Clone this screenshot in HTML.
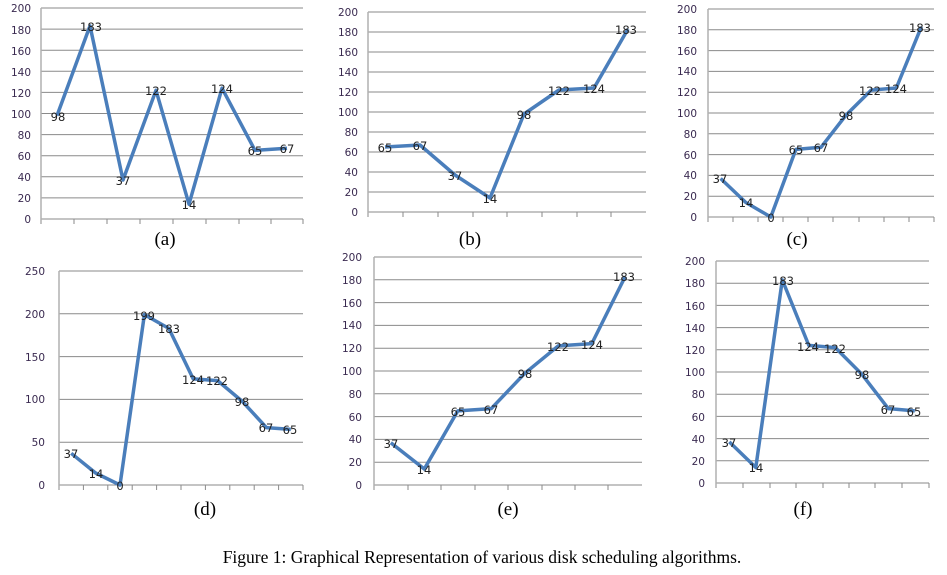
<!DOCTYPE html>
<html><head><meta charset="utf-8"><style>
body{margin:0;background:#fff;}
svg{display:block}
.t{font-family:"DejaVu Sans","Liberation Sans",sans-serif;font-size:10.5px;fill:#3a2a50;text-anchor:end}
.d{font-family:"DejaVu Sans","Liberation Sans",sans-serif;font-size:11.5px;fill:#222;text-anchor:middle}
.c{font-family:"Liberation Serif",serif;font-size:19px;fill:#000;text-anchor:middle}
.g{stroke:#8a8a8a;stroke-width:1}
.ax{stroke:#b0b0b0;stroke-width:1.5}
.l{fill:none;stroke:#4a7ebb;stroke-width:3.5;stroke-linejoin:round}
</style></head><body>
<svg width="947" height="575" xmlns="http://www.w3.org/2000/svg">
<!-- (a) -->
<g class="g"><line x1="41" x2="303" y1="219" y2="219"/><line x1="41" x2="303" y1="197.9" y2="197.9"/><line x1="41" x2="303" y1="176.8" y2="176.8"/><line x1="41" x2="303" y1="155.7" y2="155.7"/><line x1="41" x2="303" y1="134.6" y2="134.6"/><line x1="41" x2="303" y1="113.5" y2="113.5"/><line x1="41" x2="303" y1="92.4" y2="92.4"/><line x1="41" x2="303" y1="71.3" y2="71.3"/><line x1="41" x2="303" y1="50.2" y2="50.2"/><line x1="41" x2="303" y1="29.1" y2="29.1"/><line x1="41" x2="303" y1="8" y2="8"/>
<line x1="74" x2="74" y1="219" y2="224"/><line x1="107" x2="107" y1="219" y2="224"/><line x1="140" x2="140" y1="219" y2="224"/><line x1="173" x2="173" y1="219" y2="224"/><line x1="206" x2="206" y1="219" y2="224"/><line x1="239" x2="239" y1="219" y2="224"/><line x1="271" x2="271" y1="219" y2="224"/><line x1="303" x2="303" y1="219" y2="224"/></g>
<line class="ax" x1="41" x2="41" y1="8" y2="224"/>
<g class="t"><text x="31" y="223">0</text><text x="31" y="202">20</text><text x="31" y="181">40</text><text x="31" y="160">60</text><text x="31" y="139">80</text><text x="31" y="118">100</text><text x="31" y="97">120</text><text x="31" y="76">140</text><text x="31" y="55">160</text><text x="31" y="34">180</text><text x="31" y="12">200</text></g>
<polyline class="l" points="57,115.6 90,25.9 123,180 156,90.3 189,204.2 222,88.2 255,150.4 287,148.3"/>
<g class="d"><text x="58" y="121">98</text><text x="91" y="31">183</text><text x="123" y="185">37</text><text x="156" y="95">122</text><text x="189" y="209">14</text><text x="222" y="93">124</text><text x="255" y="155">65</text><text x="287" y="153">67</text></g>
<text class="c" x="165" y="245">(a)</text>

<!-- (b) -->
<g class="g"><line x1="368" x2="646" y1="212" y2="212"/><line x1="368" x2="646" y1="192" y2="192"/><line x1="368" x2="646" y1="172" y2="172"/><line x1="368" x2="646" y1="152" y2="152"/><line x1="368" x2="646" y1="132" y2="132"/><line x1="368" x2="646" y1="112" y2="112"/><line x1="368" x2="646" y1="92" y2="92"/><line x1="368" x2="646" y1="72" y2="72"/><line x1="368" x2="646" y1="52" y2="52"/><line x1="368" x2="646" y1="32" y2="32"/><line x1="368" x2="646" y1="12" y2="12"/>
<line x1="403" x2="403" y1="212" y2="217"/><line x1="438" x2="438" y1="212" y2="217"/><line x1="473" x2="473" y1="212" y2="217"/><line x1="507" x2="507" y1="212" y2="217"/><line x1="542" x2="542" y1="212" y2="217"/><line x1="577" x2="577" y1="212" y2="217"/><line x1="611" x2="611" y1="212" y2="217"/><line x1="368" x2="368" y1="212" y2="217"/></g>
<line class="ax" x1="368" x2="368" y1="12" y2="217"/>
<g class="t"><text x="358" y="216">0</text><text x="358" y="196">20</text><text x="358" y="176">40</text><text x="358" y="156">60</text><text x="358" y="136">80</text><text x="358" y="116">100</text><text x="358" y="96">120</text><text x="358" y="76">140</text><text x="358" y="56">160</text><text x="358" y="36">180</text><text x="358" y="16">200</text></g>
<polyline class="l" points="385,147 420,145 455,175 490,198 524,114 559,90 594,88 628,29"/>
<g class="d"><text x="385" y="152">65</text><text x="420" y="150">67</text><text x="455" y="180">37</text><text x="490" y="203">14</text><text x="524" y="119">98</text><text x="559" y="95">122</text><text x="594" y="93">124</text><text x="626" y="34">183</text></g>
<text class="c" x="470" y="245">(b)</text>

<!-- (c) -->
<g class="g"><line x1="708" x2="934" y1="217" y2="217"/><line x1="708" x2="934" y1="196.2" y2="196.2"/><line x1="708" x2="934" y1="175.4" y2="175.4"/><line x1="708" x2="934" y1="154.6" y2="154.6"/><line x1="708" x2="934" y1="133.8" y2="133.8"/><line x1="708" x2="934" y1="113" y2="113"/><line x1="708" x2="934" y1="92.2" y2="92.2"/><line x1="708" x2="934" y1="71.4" y2="71.4"/><line x1="708" x2="934" y1="50.6" y2="50.6"/><line x1="708" x2="934" y1="29.8" y2="29.8"/><line x1="708" x2="934" y1="9" y2="9"/>
<line x1="733" x2="733" y1="217" y2="222"/><line x1="758" x2="758" y1="217" y2="222"/><line x1="783" x2="783" y1="217" y2="222"/><line x1="808" x2="808" y1="217" y2="222"/><line x1="833" x2="833" y1="217" y2="222"/><line x1="859" x2="859" y1="217" y2="222"/><line x1="884" x2="884" y1="217" y2="222"/><line x1="909" x2="909" y1="217" y2="222"/><line x1="934" x2="934" y1="217" y2="222"/></g>
<line class="ax" x1="708" x2="708" y1="9" y2="222"/>
<g class="t"><text x="697" y="221">0</text><text x="697" y="200">20</text><text x="697" y="179">40</text><text x="697" y="159">60</text><text x="697" y="138">80</text><text x="697" y="117">100</text><text x="697" y="96">120</text><text x="697" y="75">140</text><text x="697" y="55">160</text><text x="697" y="34">180</text><text x="697" y="13">200</text></g>
<polyline class="l" points="720.6,178.5 745.7,202.4 770.8,217 795.9,149.4 821,147.3 846.1,115 871.2,90.1 896.3,88 921.4,26.7"/>
<g class="d"><text x="720" y="183">37</text><text x="746" y="207">14</text><text x="771" y="222">0</text><text x="796" y="154">65</text><text x="821" y="152">67</text><text x="846" y="120">98</text><text x="870" y="95">122</text><text x="896" y="93">124</text><text x="920" y="32">183</text></g>
<text class="c" x="797" y="245">(c)</text>

<!-- (d) -->
<g class="g"><line x1="59" x2="303" y1="485" y2="485"/><line x1="59" x2="303" y1="442.2" y2="442.2"/><line x1="59" x2="303" y1="399.4" y2="399.4"/><line x1="59" x2="303" y1="356.6" y2="356.6"/><line x1="59" x2="303" y1="313.8" y2="313.8"/><line x1="59" x2="303" y1="271" y2="271"/>
<line x1="83.4" x2="83.4" y1="485" y2="490"/><line x1="107.8" x2="107.8" y1="485" y2="490"/><line x1="132.2" x2="132.2" y1="485" y2="490"/><line x1="156.6" x2="156.6" y1="485" y2="490"/><line x1="181" x2="181" y1="485" y2="490"/><line x1="205.4" x2="205.4" y1="485" y2="490"/><line x1="229.8" x2="229.8" y1="485" y2="490"/><line x1="254.2" x2="254.2" y1="485" y2="490"/><line x1="278.6" x2="278.6" y1="485" y2="490"/><line x1="303" x2="303" y1="485" y2="490"/></g>
<line class="ax" x1="59" x2="59" y1="271" y2="490"/>
<g class="t"><text x="45" y="489">0</text><text x="45" y="446">50</text><text x="45" y="403">100</text><text x="45" y="361">150</text><text x="45" y="318">200</text><text x="45" y="275">250</text></g>
<polyline class="l" points="71.2,453.3 95.6,473 120,485 144.4,314.6 168.8,328.4 193.2,378.9 217.6,380.6 242,401.1 266.4,427.6 290.8,429.4"/>
<g class="d"><text x="71" y="458">37</text><text x="96" y="478">14</text><text x="120" y="490">0</text><text x="144" y="320">199</text><text x="169" y="333">183</text><text x="193" y="384">124</text><text x="217" y="385">122</text><text x="242" y="406">98</text><text x="266" y="432">67</text><text x="290" y="434">65</text></g>
<text class="c" x="205" y="515">(d)</text>

<!-- (e) -->
<g class="g"><line x1="374" x2="642" y1="485" y2="485"/><line x1="374" x2="642" y1="462.2" y2="462.2"/><line x1="374" x2="642" y1="439.4" y2="439.4"/><line x1="374" x2="642" y1="416.6" y2="416.6"/><line x1="374" x2="642" y1="393.8" y2="393.8"/><line x1="374" x2="642" y1="371" y2="371"/><line x1="374" x2="642" y1="348.2" y2="348.2"/><line x1="374" x2="642" y1="325.4" y2="325.4"/><line x1="374" x2="642" y1="302.6" y2="302.6"/><line x1="374" x2="642" y1="279.8" y2="279.8"/><line x1="374" x2="642" y1="257" y2="257"/>
<line x1="408" x2="408" y1="485" y2="490"/><line x1="441" x2="441" y1="485" y2="490"/><line x1="475" x2="475" y1="485" y2="490"/><line x1="508" x2="508" y1="485" y2="490"/><line x1="542" x2="542" y1="485" y2="490"/><line x1="575" x2="575" y1="485" y2="490"/><line x1="608" x2="608" y1="485" y2="490"/></g>
<line class="ax" x1="374" x2="374" y1="257" y2="490"/>
<g class="t"><text x="362" y="489">0</text><text x="362" y="466">20</text><text x="362" y="443">40</text><text x="362" y="421">60</text><text x="362" y="398">80</text><text x="362" y="375">100</text><text x="362" y="352">120</text><text x="362" y="329">140</text><text x="362" y="307">160</text><text x="362" y="284">180</text><text x="362" y="261">200</text></g>
<polyline class="l" points="390.8,442.8 424.3,469 457.8,410.9 491.3,408.6 524.8,373.3 558.3,345.9 591.8,343.6 625.3,276.4"/>
<g class="d"><text x="391" y="448">37</text><text x="424" y="474">14</text><text x="458" y="416">65</text><text x="491" y="414">67</text><text x="525" y="378">98</text><text x="558" y="351">122</text><text x="592" y="349">124</text><text x="624" y="281">183</text></g>
<text class="c" x="508" y="515">(e)</text>

<!-- (f) -->
<g class="g"><line x1="716" x2="929" y1="483" y2="483"/><line x1="716" x2="929" y1="460.8" y2="460.8"/><line x1="716" x2="929" y1="438.6" y2="438.6"/><line x1="716" x2="929" y1="416.4" y2="416.4"/><line x1="716" x2="929" y1="394.2" y2="394.2"/><line x1="716" x2="929" y1="372" y2="372"/><line x1="716" x2="929" y1="349.8" y2="349.8"/><line x1="716" x2="929" y1="327.6" y2="327.6"/><line x1="716" x2="929" y1="305.4" y2="305.4"/><line x1="716" x2="929" y1="283.2" y2="283.2"/><line x1="716" x2="929" y1="261" y2="261"/>
<line x1="743" x2="743" y1="483" y2="488"/><line x1="770" x2="770" y1="483" y2="488"/><line x1="796" x2="796" y1="483" y2="488"/><line x1="823" x2="823" y1="483" y2="488"/><line x1="849" x2="849" y1="483" y2="488"/><line x1="875" x2="875" y1="483" y2="488"/><line x1="902" x2="902" y1="483" y2="488"/><line x1="929" x2="929" y1="483" y2="488"/></g>
<line class="ax" x1="716" x2="716" y1="261" y2="488"/>
<g class="t"><text x="705" y="487">0</text><text x="705" y="465">20</text><text x="705" y="443">40</text><text x="705" y="421">60</text><text x="705" y="398">80</text><text x="705" y="376">100</text><text x="705" y="354">120</text><text x="705" y="332">140</text><text x="705" y="310">160</text><text x="705" y="287">180</text><text x="705" y="265">200</text></g>
<polyline class="l" points="729.3,441.9 755.8,467.5 782.3,279.9 808.8,345.4 835.3,347.6 861.8,374.2 888.3,408.6 914.8,410.9"/>
<g class="d"><text x="729" y="447">37</text><text x="756" y="472">14</text><text x="783" y="285">183</text><text x="808" y="351">124</text><text x="835" y="353">122</text><text x="862" y="379">98</text><text x="888" y="414">67</text><text x="914" y="416">65</text></g>
<text class="c" x="803" y="515">(f)</text>

<text x="482" y="563" style="font-family:'Liberation Serif',serif;font-size:17.5px;text-anchor:middle">Figure 1: Graphical Representation of various disk scheduling algorithms.</text>
</svg>
</body></html>
